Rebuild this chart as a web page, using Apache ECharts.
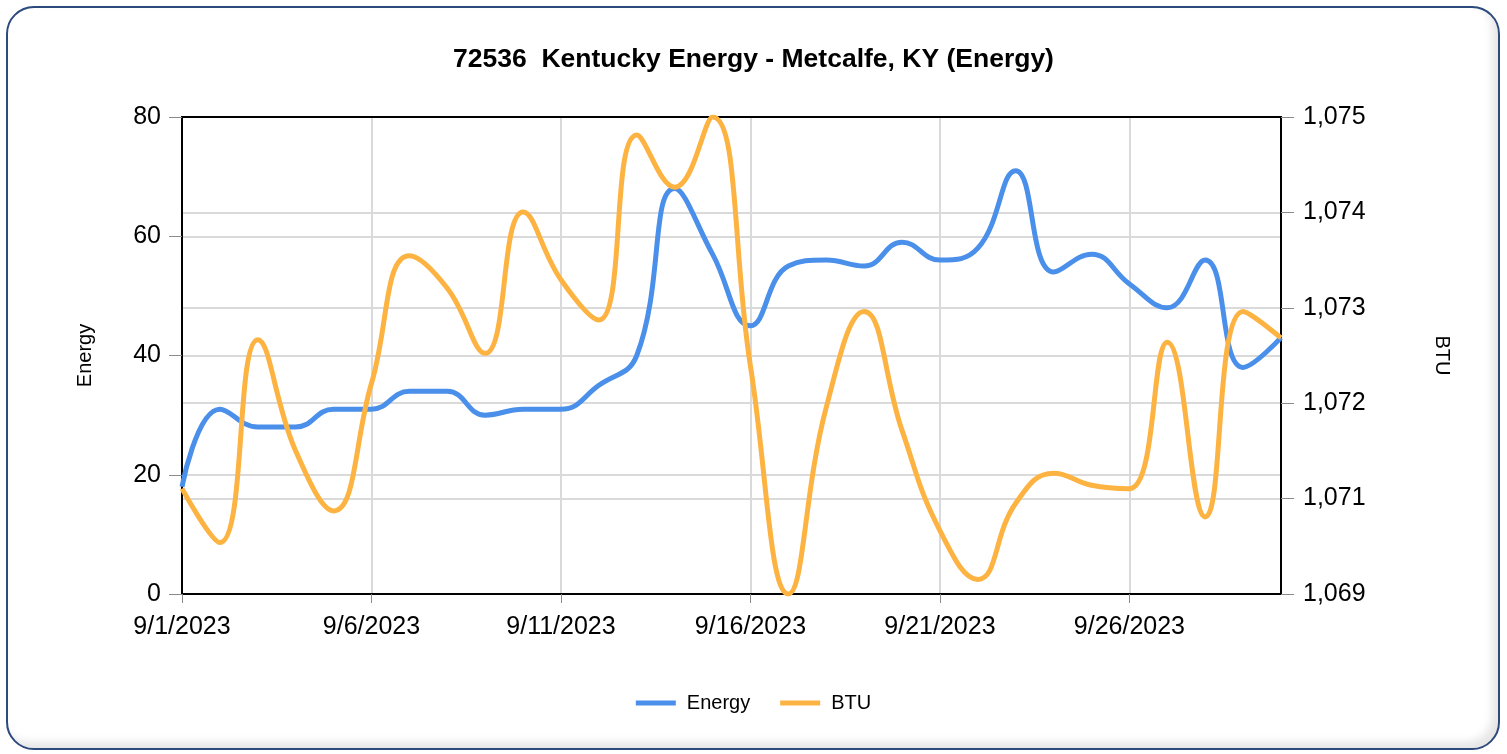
<!DOCTYPE html>
<html>
<head>
<meta charset="utf-8">
<script src="https://cdn.jsdelivr.net/npm/echarts@6/dist/echarts.min.js"></script>
<style>
  html, body { margin: 0; padding: 0; background: #ffffff; }
  #wrap { position: relative; width: 1507px; height: 754px; background: #ffffff; }
  #frame { position: absolute; left: 6px; top: 6px; width: 1490px; height: 740px;
           border: 2px solid #2c4a7c; border-radius: 28px; background: #ffffff;
           box-shadow: inset -6px -6px 8px rgba(0,0,0,0.10); }
  #chart { position: absolute; left: 0; top: 0; width: 1507px; height: 754px; }
</style>
</head>
<body>
<div id="wrap">
  <div id="frame"></div>
  <div id="chart"></div>
</div>
<script>
const titleText = '72536  Kentucky Energy - Metcalfe, KY (Energy)';
const dates = ['9/1/2023','9/2/2023','9/3/2023','9/4/2023','9/5/2023','9/6/2023','9/7/2023','9/8/2023','9/9/2023','9/10/2023',
               '9/11/2023','9/12/2023','9/13/2023','9/14/2023','9/15/2023','9/16/2023','9/17/2023','9/18/2023','9/19/2023','9/20/2023',
               '9/21/2023','9/22/2023','9/23/2023','9/24/2023','9/25/2023','9/26/2023','9/27/2023','9/28/2023','9/29/2023','9/30/2023'];
const energy = [18, 31, 28, 28, 31, 31, 34, 34, 30, 31,
                31, 35, 40, 68, 57, 45, 55, 56, 55, 59,
                56, 58, 71, 54, 57, 52, 48, 56, 38, 43];
const btu = [1070.67, 1070.04, 1072.41, 1071.11, 1070.41, 1071.90, 1073.39, 1073.01, 1072.25, 1073.90,
             1073.11, 1072.64, 1074.80, 1074.19, 1075.01, 1072.10, 1069.44, 1071.62, 1072.74, 1071.35,
             1070.18, 1069.61, 1070.50, 1070.85, 1070.71, 1070.67, 1072.38, 1070.34, 1072.74, 1072.43];
const energyTicks = { min: 0, max: 80, interval: 20 };
const btuTicks = { min: 1069.44, max: 1075.01, interval: 1.114 };

const FONT = '"Liberation Sans", Arial, sans-serif';
const chart = echarts.init(document.getElementById('chart'), null, { renderer: 'canvas' });
const gridLine = { show: true, lineStyle: { color: '#dadada', width: 2 } };
const tickStyle = { show: true, length: 13, lineStyle: { color: '#8a8a8a', width: 1 } };

chart.setOption({
  backgroundColor: 'transparent',
  animation: false,
  title: {
    text: titleText,
    left: 'center',
    top: 41,
    textStyle: { fontFamily: FONT, fontSize: 26.5, fontWeight: 'bold', color: '#000' }
  },
  legend: {
    bottom: 36,
    left: 'center',
    itemWidth: 40,
    itemHeight: 5,
    itemGap: 30,
    icon: 'rect',
    textStyle: { fontFamily: FONT, fontSize: 20, color: '#000', padding: [0, 0, 0, 6] },
    data: ['Energy', 'BTU']
  },
  grid: {
    left: 182, right: 226, top: 117, bottom: 160,
    show: true, borderColor: '#000', borderWidth: 2, backgroundColor: 'transparent'
  },
  xAxis: [
    {
      type: 'category',
      data: dates,
      boundaryGap: false,
      axisLine: { show: true, lineStyle: { color: '#000', width: 2 } },
      axisTick: { show: true, interval: 4, length: 9, lineStyle: { color: '#8a8a8a' } },
      axisLabel: { interval: 4, fontFamily: FONT, fontSize: 25, color: '#000', margin: 21 },
      splitLine: { show: true, interval: 4, lineStyle: { color: '#dadada', width: 2 } }
    },
    {
      type: 'category',
      data: dates,
      position: 'top',
      boundaryGap: false,
      axisLine: { show: true, lineStyle: { color: '#000', width: 2 } },
      axisTick: { show: false },
      axisLabel: { show: false },
      splitLine: { show: false }
    }
  ],
  yAxis: [
    {
      type: 'value',
      name: 'Energy',
      nameLocation: 'middle',
      nameRotate: 90,
      nameGap: 87,
      nameTextStyle: { fontFamily: FONT, fontSize: 20, color: '#000' },
      min: energyTicks.min, max: energyTicks.max, interval: energyTicks.interval,
      axisLine: { show: true, lineStyle: { color: '#000', width: 2 } },
      axisTick: tickStyle,
      axisLabel: { fontFamily: FONT, fontSize: 25, color: '#000', margin: 21 },
      splitLine: gridLine
    },
    {
      type: 'value',
      name: 'BTU',
      nameLocation: 'middle',
      nameRotate: -90,
      nameGap: 151,
      nameTextStyle: { fontFamily: FONT, fontSize: 20, color: '#000' },
      min: btuTicks.min, max: btuTicks.max, interval: btuTicks.interval,
      axisLine: { show: true, lineStyle: { color: '#000', width: 2 } },
      axisTick: tickStyle,
      axisLabel: {
        fontFamily: FONT, fontSize: 25, color: '#000', margin: 22,
        formatter: v => Math.round(v).toLocaleString('en-US')
      },
      splitLine: gridLine
    }
  ],
  series: [
    {
      name: 'Energy', type: 'line', xAxisIndex: 0, yAxisIndex: 0, data: energy,
      smooth: 0.45, showSymbol: false, symbol: 'none',
      lineStyle: { color: '#4A8FEA', width: 5 },
      itemStyle: { color: '#4A8FEA' },
      z: 3
    },
    {
      name: 'BTU', type: 'line', xAxisIndex: 0, yAxisIndex: 1, data: btu,
      smooth: 0.45, showSymbol: false, symbol: 'none',
      lineStyle: { color: '#FDB342', width: 5 },
      itemStyle: { color: '#FDB342' },
      z: 4
    }
  ]
});
</script>
</body>
</html>
